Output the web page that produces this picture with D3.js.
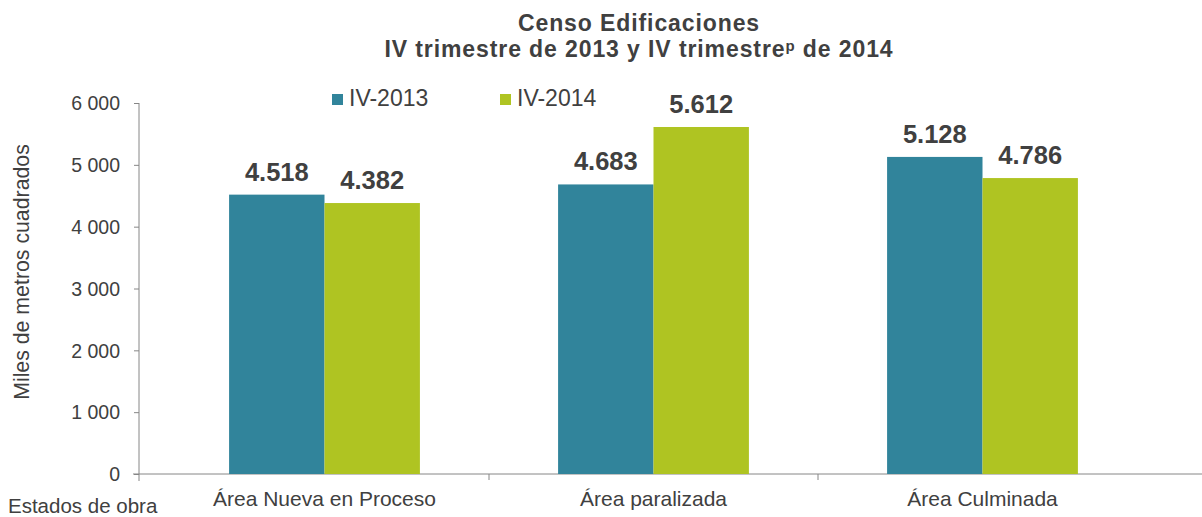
<!DOCTYPE html>
<html>
<head>
<meta charset="utf-8">
<script src="https://cdn.jsdelivr.net/npm/d3@7"></script>
<style>
  body { margin: 0; background: #fff; }
  svg text { font-family: "Liberation Sans", Arial, sans-serif; fill: #404040; }
</style>
</head>
<body>
<div id="chart"></div>
<script>
// Data
const categories = ["Área Nueva en Proceso", "Área paralizada", "Área Culminada"];
const seriesNames = ["IV-2013", "IV-2014"];
const values2013 = [4518, 4683, 5128];
const values2014 = [4382, 5612, 4786];
const yTicks = [0, 1000, 2000, 3000, 4000, 5000, 6000];

const colors = { "IV-2013": "#31849b", "IV-2014": "#afc422" };

const width = 1202, height = 517;

const svg = d3.select("#chart").append("svg")
  .attr("width", width)
  .attr("height", height);

// scales
const x0 = d3.scaleBand().domain(categories).range([160, 1147]).paddingInner(0.42).paddingOuter(0.21);
const x1 = d3.scaleBand().domain(seriesNames).range([0, x0.bandwidth()]);
const y = d3.scaleLinear().domain([0, 6000]).range([474, 103]);

const spaceFmt = d3.formatLocale({ decimal: ",", thousands: " ", grouping: [3], currency: ["", ""] }).format(",d");
const dotFmt = d3.formatLocale({ decimal: ",", thousands: ".", grouping: [3], currency: ["", ""] }).format(",d");

// rows
const rows = categories.map((c, i) => ({ cat: c, "IV-2013": values2013[i], "IV-2014": values2014[i] }));

// y axis
const yAxis = d3.axisLeft(y).tickValues(yTicks).tickSize(5).tickPadding(14).tickFormat(spaceFmt);
const yG = svg.append("g").attr("transform", "translate(139,0)").call(yAxis);
yG.select(".domain").attr("stroke", "#868686").attr("d", "M0,103V481");
yG.selectAll(".tick line").attr("stroke", "#868686");
yG.selectAll(".tick text").style("font-size", "19.5px").attr("fill", "#404040").attr("dy", "0.35em");

// x axis
const xAxis = d3.axisBottom(x0).tickSize(0).tickPadding(17);
const xG = svg.append("g").attr("transform", "translate(0,474)").call(xAxis);
xG.select(".domain").attr("stroke", "#868686").attr("d", "M133,0H1202");
xG.selectAll(".tick text").style("font-size", "21px").attr("fill", "#404040");
// separators between categories
xG.selectAll(".sep")
  .data(categories.slice(1))
  .enter().append("line")
  .attr("class", "sep")
  .attr("x1", d => x0(d) - x0.step() * x0.paddingInner() / 2)
  .attr("x2", d => x0(d) - x0.step() * x0.paddingInner() / 2)
  .attr("y1", 0).attr("y2", 6)
  .attr("stroke", "#868686");

// bars
const groups = svg.selectAll(".grp")
  .data(rows)
  .enter().append("g")
  .attr("class", "grp")
  .attr("transform", d => "translate(" + x0(d.cat) + ",0)");

groups.selectAll("rect")
  .data(d => seriesNames.map(s => ({ s: s, v: d[s] })))
  .enter().append("rect")
  .attr("x", d => x1(d.s))
  .attr("y", d => y(d.v))
  .attr("width", x1.bandwidth())
  .attr("height", d => y(0) - y(d.v))
  .attr("fill", d => colors[d.s]);

groups.selectAll(".lbl")
  .data(d => seriesNames.map(s => ({ s: s, v: d[s] })))
  .enter().append("text")
  .attr("class", "lbl")
  .attr("x", d => x1(d.s) + x1.bandwidth() / 2)
  .attr("y", d => y(d.v) - 14)
  .attr("text-anchor", "middle")
  .style("font-size", "25.5px")
  .style("font-weight", "bold")
  .text(d => dotFmt(d.v));

// title (two separate lines)
svg.append("text")
  .attr("x", 639).attr("y", 31)
  .attr("text-anchor", "middle")
  .style("font-size", "23px")
  .style("font-weight", "bold")
  .style("letter-spacing", "0.9px")
  .text("Censo Edificaciones");

const title2 = svg.append("text")
  .attr("x", 639).attr("y", 57)
  .attr("text-anchor", "middle")
  .style("font-size", "23px")
  .style("font-weight", "bold")
  .style("letter-spacing", "0.9px");
title2.append("tspan").text("IV trimestre de 2013 y IV trimestre");
title2.append("tspan").attr("dy", -6).style("font-size", "15px").text("p");
title2.append("tspan").attr("dy", 6).text(" de 2014");

// legend
const legend = svg.append("g").selectAll("g")
  .data(seriesNames)
  .enter().append("g")
  .attr("transform", (d, i) => "translate(" + (332 + i * 168) + ",94)");
legend.append("rect").attr("width", 11).attr("height", 11).attr("fill", d => colors[d]);
legend.append("text").attr("x", 17).attr("y", 12).style("font-size", "23px").text(d => d);

// axis titles
svg.append("text")
  .attr("transform", "translate(29,272) rotate(-90)")
  .attr("text-anchor", "middle")
  .style("font-size", "21.3px")
  .text("Miles de metros cuadrados");

svg.append("text")
  .attr("x", 8).attr("y", 513)
  .style("font-size", "20.5px")
  .text("Estados de obra");
</script>
</body>
</html>
